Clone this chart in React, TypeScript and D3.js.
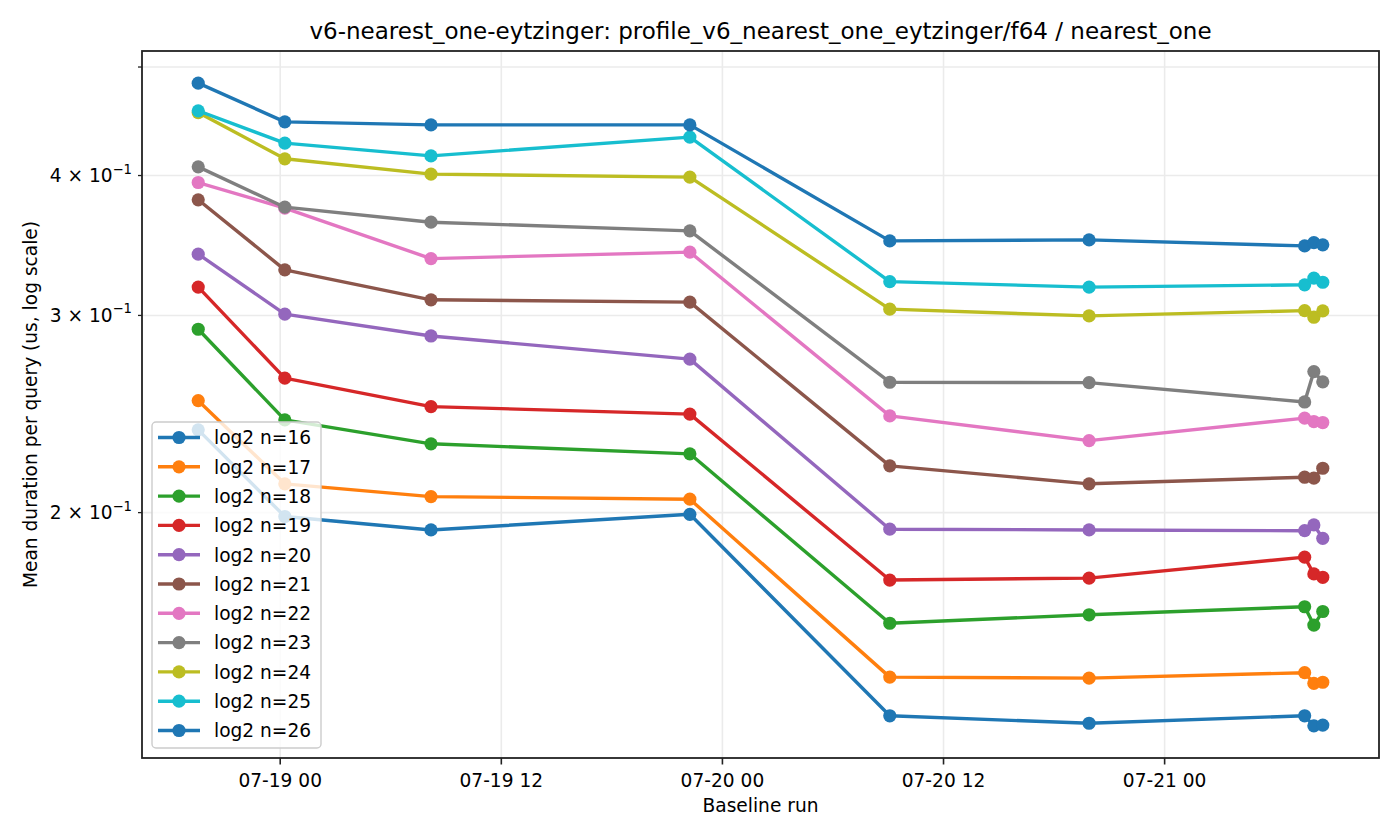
import React from 'react';
import * as d3 from 'd3';

// baseline run timestamps (UTC)
const runTimes = [
  '2025-07-18T19:33', '2025-07-19T00:15', '2025-07-19T08:11', '2025-07-19T22:14',
  '2025-07-20T09:05', '2025-07-20T19:54', '2025-07-21T07:36', '2025-07-21T08:06', '2025-07-21T08:35',
];

// mean duration per query (us)
const n16 = [0.2371, 0.1984, 0.1930, 0.1993, 0.1317, 0.1297, 0.1317, 0.1290, 0.1292];
const n17 = [0.2518, 0.2122, 0.2067, 0.2056, 0.1426, 0.1423, 0.1439, 0.1408, 0.1411];
const n18 = [0.2916, 0.2420, 0.2304, 0.2257, 0.1593, 0.1621, 0.1648, 0.1587, 0.1632];
const n19 = [0.3180, 0.2637, 0.2487, 0.2449, 0.1741, 0.1748, 0.1825, 0.1763, 0.1751];
const n20 = [0.3403, 0.3008, 0.2876, 0.2742, 0.1933, 0.1930, 0.1927, 0.1950, 0.1897];
const n21 = [0.3805, 0.3295, 0.3098, 0.3083, 0.2202, 0.2122, 0.2151, 0.2147, 0.2191];
const n22 = [0.3943, 0.3741, 0.3372, 0.3417, 0.2440, 0.2319, 0.2429, 0.2412, 0.2407];
const n23 = [0.4072, 0.3748, 0.3634, 0.3570, 0.2615, 0.2613, 0.2511, 0.2673, 0.2617];
const n24 = [0.4553, 0.4140, 0.4012, 0.3987, 0.3039, 0.2997, 0.3030, 0.2989, 0.3028];
const n25 = [0.4569, 0.4276, 0.4165, 0.4329, 0.3216, 0.3180, 0.3195, 0.3239, 0.3212];
const n26 = [0.4837, 0.4467, 0.4439, 0.4439, 0.3497, 0.3504, 0.3461, 0.3485, 0.3469];

const seriesNames = [
  'log2 n=16', 'log2 n=17', 'log2 n=18', 'log2 n=19', 'log2 n=20', 'log2 n=21',
  'log2 n=22', 'log2 n=23', 'log2 n=24', 'log2 n=25', 'log2 n=26',
];
const seriesValues = [n16, n17, n18, n19, n20, n21, n22, n23, n24, n25, n26];

// y ticks on the log axis: mantissa labels (x 10^-1), the last one unlabeled
const yTickValues = [0.2, 0.3, 0.4, 0.5];
const yTickLabels = ['2', '3', '4', ''];

const tab10 = ['#1f77b4', '#ff7f0e', '#2ca02c', '#d62728', '#9467bd', '#8c564b',
  '#e377c2', '#7f7f7f', '#bcbd22', '#17becf'];

const W = 1400;
const H = 840;
const box = { left: 142, right: 1379, top: 51, bottom: 758 };
const font = '"DejaVu Sans", sans-serif';
const fs = 18.6;

export default function App() {
  const dates = runTimes.map((s) => d3.utcParse('%Y-%m-%dT%H:%M')(s) as Date);

  // 5% padding like matplotlib's default margins
  const [t0, t1] = d3.extent(dates) as [Date, Date];
  const pad = (+t1 - +t0) * 0.05;
  const x = d3.scaleUtc()
    .domain([new Date(+t0 - pad), new Date(+t1 + pad)])
    .range([box.left, box.right]);

  const all = seriesValues.flat();
  const lo = Math.log(d3.min(all) as number);
  const hi = Math.log(d3.max(all) as number);
  const lpad = (hi - lo) * 0.05;
  const y = d3.scaleLog()
    .domain([Math.exp(lo - lpad), Math.exp(hi + lpad)])
    .range([box.bottom, box.top]);

  const xTicks = x.ticks(d3.utcHour.every(12) as d3.TimeInterval);
  const fmt = d3.utcFormat('%m-%d %H');

  const line = d3.line<number>()
    .x((_, i) => x(dates[i]))
    .y((v) => y(v));

  const legX = 152;
  const legY = 422;
  const rowH = 29.3;

  return (
    <svg width={W} height={H} style={{ position: 'absolute', left: 0, top: 0, background: '#fff' }}
      fontFamily={font}>
      <rect width={W} height={H} fill="#fff" />

      {/* grid */}
      {xTicks.map((t, i) => (
        <line key={'gx' + i} x1={x(t)} x2={x(t)} y1={box.top} y2={box.bottom}
          stroke="#ebebeb" strokeWidth={1.6} />
      ))}
      {yTickValues.map((v, i) => (
        <line key={'gy' + i} x1={box.left} x2={box.right} y1={y(v)} y2={y(v)}
          stroke="#ebebeb" strokeWidth={1.6} />
      ))}

      {/* series */}
      {seriesValues.map((vals, si) => {
        const c = tab10[si % tab10.length];
        return (
          <g key={'s' + si}>
            <path d={line(vals) as string} fill="none" stroke={c} strokeWidth={3.4}
              strokeLinejoin="round" strokeLinecap="square" />
            {vals.map((v, i) => (
              <circle key={i} cx={x(dates[i])} cy={y(v)} r={6.6} fill={c} />
            ))}
          </g>
        );
      })}

      {/* spines */}
      <rect x={box.left} y={box.top} width={box.right - box.left} height={box.bottom - box.top}
        fill="none" stroke="#222" strokeWidth={1.8} />

      {/* x axis */}
      {xTicks.map((t, i) => (
        <g key={'xt' + i}>
          <line x1={x(t)} x2={x(t)} y1={box.bottom} y2={box.bottom + 6.5} stroke="#222" strokeWidth={1.6} />
          <text x={x(t)} y={box.bottom + 29} textAnchor="middle" fontSize={fs} fill="#000">
            {fmt(t)}
          </text>
        </g>
      ))}
      <text x={(box.left + box.right) / 2} y={812} textAnchor="middle" fontSize={fs} fill="#000">
        Baseline run
      </text>

      {/* y axis */}
      {yTickValues.map((v, i) => (
        <g key={'yt' + i}>
          <line x1={box.left - 4} x2={box.left} y1={y(v)} y2={y(v)} stroke="#222" strokeWidth={1.3} />
          {yTickLabels[i] && (
            <text x={box.left - 10} y={y(v) + 6.5} textAnchor="end" fontSize={fs} fill="#000">
              {yTickLabels[i] + ' \u00d7 10'}
              <tspan dy={-8.5} fontSize={13.2}>{'\u22121'}</tspan>
            </text>
          )}
        </g>
      ))}
      <text transform={`translate(37, ${(box.top + box.bottom) / 2}) rotate(-90)`} textAnchor="middle"
        fontSize={fs} fill="#000">
        Mean duration per query (us, log scale)
      </text>

      {/* title */}
      <text x={(box.left + box.right) / 2} y={39} textAnchor="middle" fontSize={23} fill="#000">
        v6-nearest_one-eytzinger: profile_v6_nearest_one_eytzinger/f64 / nearest_one
      </text>

      {/* legend */}
      <rect x={legX} y={legY} width={169} height={326} rx={4} fill="#fff" fillOpacity={0.8}
        stroke="#cccccc" strokeWidth={1.4} />
      {seriesNames.map((name, i) => {
        const cy = legY + 15.5 + i * rowH;
        const c = tab10[i % tab10.length];
        return (
          <g key={'lg' + i}>
            <line x1={158} x2={200} y1={cy} y2={cy} stroke={c} strokeWidth={3.4} />
            <circle cx={179} cy={cy} r={6.6} fill={c} />
            <text x={214} y={cy + 6.8} fontSize={fs} fill="#000">{name}</text>
          </g>
        );
      })}
    </svg>
  );
}
